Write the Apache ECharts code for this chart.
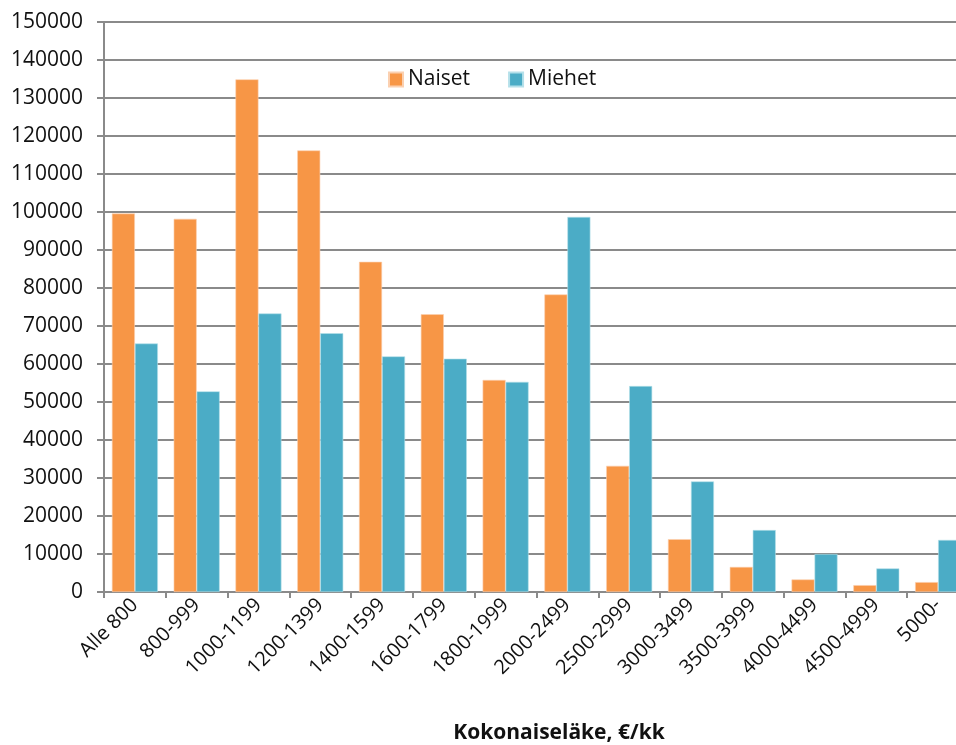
<!DOCTYPE html>
<html>
<head>
<meta charset="utf-8">
<script src="https://cdn.jsdelivr.net/npm/echarts@6/dist/echarts.min.js"></script>
<style>
html,body{margin:0;padding:0;background:#fff;overflow:hidden;width:956px;height:745px;}
#chart{width:970px;height:745px;}
</style>
</head>
<body>
<div id="chart"></div>
<script>
const categories = ['Alle 800','800-999','1000-1199','1200-1399','1400-1599','1600-1799','1800-1999','2000-2499','2500-2999','3000-3499','3500-3999','4000-4499','4500-4999','5000-'];
const naiset = [99600, 98200, 134900, 116200, 86900, 73100, 55800, 78300, 33200, 13900, 6600, 3300, 1800, 2600];
const miehet = [65400, 52800, 73300, 68100, 62000, 61400, 55300, 98700, 54200, 29100, 16300, 10000, 6200, 13700];
const seriesNames = ['Naiset', 'Miehet'];
const yTicks = { min: 0, max: 150000, interval: 10000 };
const xTitle = 'Kokonaiseläke, €/kk';

const FONT = 'Open Sans';
const gridColor = '#8a8a8a';
const chart = echarts.init(document.getElementById('chart'));
chart.setOption({
  animation: false,
  backgroundColor: '#fff',
  textStyle: { fontFamily: FONT },
  legend: {
    data: seriesNames,
    left: 383, top: 64,
    itemWidth: 14, itemHeight: 14, itemGap: 38,
    icon: 'rect',
    textStyle: { fontFamily: FONT, fontSize: 21, color: '#111' }
  },
  grid: { left: 104, top: 22, width: 865, height: 570, containLabel: false },
  xAxis: {
    type: 'category',
    data: categories,
    axisLine: { lineStyle: { color: gridColor, width: 2 } },
    axisTick: { show: true, length: 6, lineStyle: { color: gridColor, width: 2 } },
    axisLabel: { rotate: 45, margin: 10, fontFamily: FONT, fontSize: 20, color: '#111', interval: 0 }
  },
  yAxis: {
    type: 'value',
    min: yTicks.min, max: yTicks.max, interval: yTicks.interval,
    axisLine: { show: true, lineStyle: { color: gridColor, width: 2 } },
    axisTick: { show: true, length: 7, lineStyle: { color: gridColor, width: 2 } },
    splitLine: { lineStyle: { color: gridColor, width: 2 } },
    axisLabel: { margin: 21, fontFamily: FONT, fontSize: 21, color: '#111', formatter: v => String(v) }
  },
  graphic: [{
    type: 'text', x: 559, y: 733,
    style: { text: xTitle, fontFamily: FONT, fontSize: 21, fontWeight: 'bold', fill: '#111', textAlign: 'center', textVerticalAlign: 'middle' }
  }],
  series: [
    { name: seriesNames[0], type: 'bar', data: naiset, barWidth: 23, barGap: '0%',
      itemStyle: { color: '#F79646', borderColor: '#fbd0b0', borderWidth: 0.6 } },
    { name: seriesNames[1], type: 'bar', data: miehet, barWidth: 23, barGap: '0%',
      itemStyle: { color: '#4BACC6', borderColor: '#b5e0ea', borderWidth: 0.6 } }
  ]
});
</script>
</body>
</html>
